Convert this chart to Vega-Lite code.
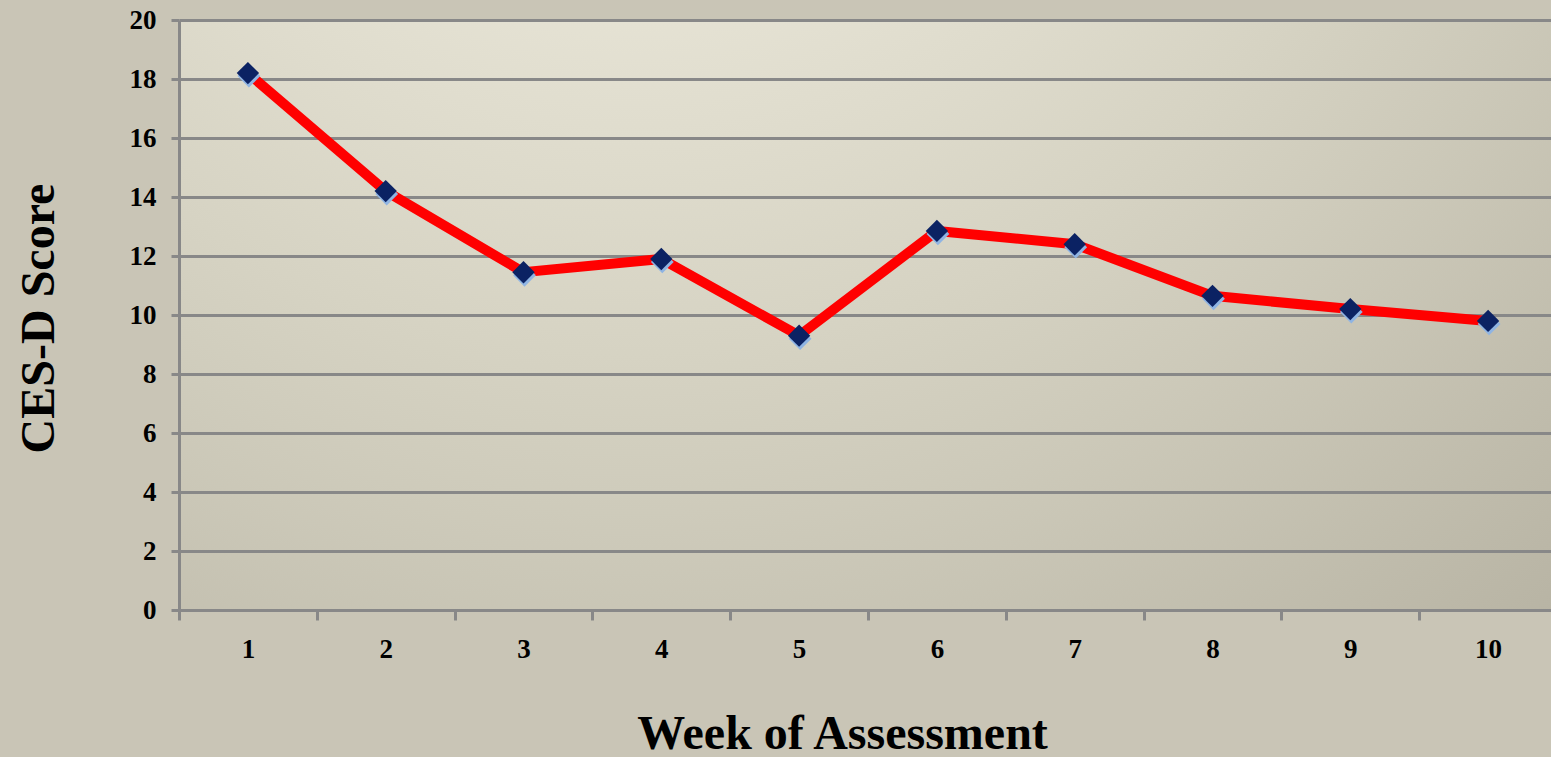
{
  "$schema": "https://vega.github.io/schema/vega-lite/v6.json",
  "width": 1372,
  "height": 590,
  "autosize": {"type": "none"},
  "padding": {"left": 179, "top": 20, "right": 0, "bottom": 147},
  "background": "#c9c5b6",
  "view": {
    "fill": {"gradient": "radial", "x1": 0.33, "y1": -0.05, "r1": 0, "x2": 0.33, "y2": -0.05, "r2": 1.05,
      "stops": [
        {"offset": 0, "color": "#f3f0e3"},
        {"offset": 0.25, "color": "#e9e6d8"},
        {"offset": 0.55, "color": "#d6d3c3"},
        {"offset": 1, "color": "#b6b2a2"}
      ]},
    "stroke": null
  },
  "data": {
    "values": [
      {"week": "1", "score": 18.2},
      {"week": "2", "score": 14.2},
      {"week": "3", "score": 11.45},
      {"week": "4", "score": 11.9},
      {"week": "5", "score": 9.3},
      {"week": "6", "score": 12.85},
      {"week": "7", "score": 12.4},
      {"week": "8", "score": 10.65},
      {"week": "9", "score": 10.2},
      {"week": "10", "score": 9.8}
    ]
  },
  "encoding": {
    "x": {
      "field": "week", "type": "ordinal", "sort": null,
      "scale": {"type": "band", "range": [0, 1378], "paddingInner": 0, "paddingOuter": 0},
      "axis": {
        "title": "Week of Assessment",
        "labelAngle": 0,
        "tickBand": "extent",
        "grid": false,
        "domainColor": "#888888", "domainWidth": 3,
        "tickColor": "#888888", "tickWidth": 3, "tickSize": 10,
        "labelFont": "Liberation Serif", "labelFontWeight": "bold", "labelFontSize": 27, "labelColor": "#000000",
        "labelPadding": 16, "labelBaseline": "top",
        "titleFont": "Liberation Serif", "titleFontWeight": "bold", "titleFontSize": 48, "titleColor": "#000000",
        "titleX": 663, "titleY": 138, "titleBaseline": "alphabetic", "titleAlign": "center"
      }
    },
    "y": {
      "field": "score", "type": "quantitative",
      "scale": {"domain": [0, 20], "nice": false},
      "axis": {
        "title": "CES-D Score",
        "values": [0, 2, 4, 6, 8, 10, 12, 14, 16, 18, 20],
        "grid": true, "gridColor": "#888888", "gridWidth": 3, "gridOpacity": 1,
        "domainColor": "#888888", "domainWidth": 3,
        "tickColor": "#888888", "tickWidth": 3, "tickSize": 8,
        "labelFont": "Liberation Serif", "labelFontWeight": "bold", "labelFontSize": 27, "labelColor": "#000000",
        "labelPadding": 15,
        "titleFont": "Liberation Serif", "titleFontWeight": "bold", "titleFontSize": 48, "titleColor": "#000000",
        "titleAngle": -90, "titleX": -126, "titleY": 298, "titleBaseline": "alphabetic", "titleAlign": "center"
      }
    }
  },
  "layer": [
    {"mark": {"type": "line", "color": "#ff0000", "strokeWidth": 10}},
    {"mark": {"type": "point", "shape": "diamond", "filled": true, "color": "#8fb4e3", "opacity": 1, "size": 520, "xOffset": 1, "yOffset": 3}},
    {"mark": {"type": "point", "shape": "diamond", "filled": true, "color": "#0b2263", "opacity": 1, "size": 500}}
  ]
}
